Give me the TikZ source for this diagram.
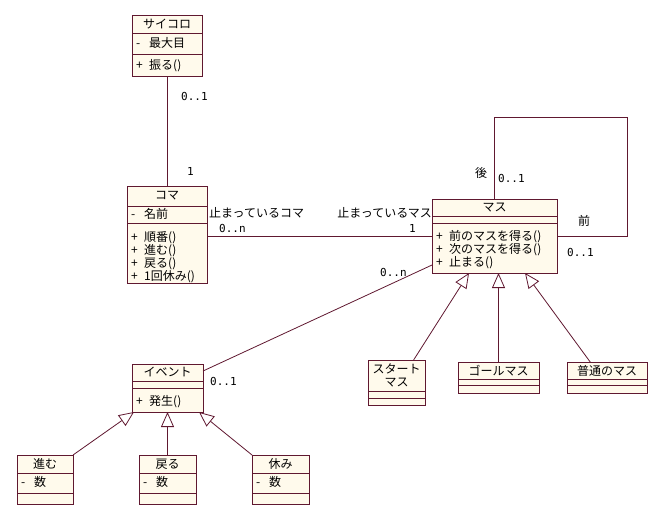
\documentclass[tikz,border=0pt]{standalone}
\usepackage{fontspec}
\setmainfont{Noto Sans CJK JP}
\newfontfamily\multfont{DejaVu Sans Mono}
\usetikzlibrary{arrows.meta,calc}
\definecolor{umlline}{RGB}{96,24,48}
\definecolor{umlfill}{RGB}{255,250,236}
\tikzset{
  umlbox/.style={draw=umlline, fill=umlfill, line width=0.9pt, inner sep=0pt, outer sep=0pt, anchor=north west},
  sepline/.style={draw=umlline, line width=0.9pt},
  txt/.style={inner sep=0pt, font=\fontsize{12}{14}\selectfont, text=black},
  ltxt/.style={txt, anchor=west},
  mult/.style={inner sep=0pt, anchor=west, font=\multfont\fontsize{11}{13}\selectfont, text=black},
  conn/.style={draw=umlline, line width=0.8pt},
  gen/.style={conn, -{Triangle[open, length=15pt, width=13pt]}},
}
\newcommand{\umlcls}[7]{%
  \node[umlbox, minimum width={(#4-#2)*1pt}, minimum height={(#5-#3)*1pt}] (#1) at (#2,#3) {};
  \draw[sepline] (#2,#6) -- (#4,#6);
  \draw[sepline] (#2,#7) -- (#4,#7);
}
\newcommand{\vis}[2]{\makebox[13pt][l]{#1}#2}
\begin{document}
\begin{tikzpicture}[x=1pt,y=-1pt]
\useasboundingbox (0,0) rectangle (668,523);
\fill[white] (0,0) rectangle (668,523);

% classes
\umlcls{saikoro}{132}{15}{202}{76}{33}{54}
\node[txt] (saikoroN) at (167,24) {サイコロ};
\node[ltxt] (saikoroA) at (136,43) {\vis{-}{最大目}};
\node[ltxt] (saikoroO) at (136,66) {\vis{+}{振る()}};

\umlcls{koma}{127}{186}{207}{283}{206}{223}
\node[txt] (komaN) at (167,196) {コマ};
\node[ltxt] (komaA) at (131,214) {\vis{-}{名前}};
\node[ltxt] (komaO1) at (131,238) {\vis{+}{順番()}};
\node[ltxt] (komaO2) at (131,251) {\vis{+}{進む()}};
\node[ltxt] (komaO3) at (131,264) {\vis{+}{戻る()}};
\node[ltxt] (komaO4) at (131,277) {\vis{+}{1回休み()}};

\umlcls{masu}{432}{199}{557}{273}{216}{223}
\node[txt] (masuN) at (494.5,208) {マス};
\node[ltxt] (masuO1) at (436,237) {\vis{+}{前のマスを得る()}};
\node[ltxt] (masuO2) at (436,250) {\vis{+}{次のマスを得る()}};
\node[ltxt] (masuO3) at (436,263) {\vis{+}{止まる()}};

\umlcls{start}{368}{360}{425}{405}{391}{398}
\node[txt] (startN1) at (396.5,369) {スタート};
\node[txt] (startN2) at (396.5,383) {マス};

\umlcls{goal}{458}{362}{539}{393}{379}{385}
\node[txt] (goalN) at (498.5,371) {ゴールマス};

\umlcls{futsuu}{567}{362}{647}{393}{379}{385}
\node[txt] (futsuuN) at (607,371) {普通のマス};

\umlcls{event}{132}{364}{203}{412}{381}{388}
\node[txt] (eventN) at (167.5,372) {イベント};
\node[ltxt] (eventO) at (136,402) {\vis{+}{発生()}};

\umlcls{susumu}{17}{455}{73}{504}{473}{493}
\node[txt] (susumuN) at (45,464) {進む};
\node[ltxt] (susumuA) at (21,482) {\vis{-}{数}};

\umlcls{modoru}{139}{455}{196}{504}{473}{493}
\node[txt] (modoruN) at (167.5,464) {戻る};
\node[ltxt] (modoruA) at (143,482) {\vis{-}{数}};

\umlcls{yasumi}{252}{455}{309}{504}{473}{493}
\node[txt] (yasumiN) at (280.5,464) {休み};
\node[ltxt] (yasumiA) at (256,482) {\vis{-}{数}};

% associations
\draw[conn] (saikoro.south) -- (koma.north);
\node[mult] (m1) at (181,96) {0..1};
\node[mult] (m2) at (187,171) {1};

\draw[conn] (masu.west -| koma.east) -- (masu.west);
\node[ltxt] (r1) at (209,213) {止まっているコマ};
\node[mult] (m3) at (219,228) {0..n};
\node[txt, anchor=east] (r2) at (432,213) {止まっているマス};
\node[mult] (m4) at (409,228) {1};

\draw[conn] ($(masu.north west)+(62,0)$) |- (627,117) |- (masu.east);
\node[txt] (r3) at (481,173) {後};
\node[mult] (m5) at (498,178) {0..1};
\node[txt] (r4) at (584,221) {前};
\node[mult] (m6) at (567,252) {0..1};

\draw[conn] ($(event.north east)+(0,7)$) -- ($(masu.south west)+(0,-8)$);
\node[mult] (m7) at (380,272) {0..n};
\node[mult] (m8) at (210,381) {0..1};

% generalizations
\draw[gen] ($(start.north west)!0.8!(start.north east)$) -- ($(masu.south west)!0.296!(masu.south east)$);
\draw[gen] (goal.north) -- (goal.north |- masu.south);
\draw[gen] ($(futsuu.north west)!0.29!(futsuu.north east)$) -- ($(masu.south west)!0.744!(masu.south east)$);

\draw[gen] (susumu.north east) -- ($(event.south west)+(2,0)$);
\draw[gen] (modoru.north) -- (modoru.north |- event.south);
\draw[gen] (yasumi.north west) -- ($(event.south east)+(-4,0)$);
\end{tikzpicture}
\end{document}
